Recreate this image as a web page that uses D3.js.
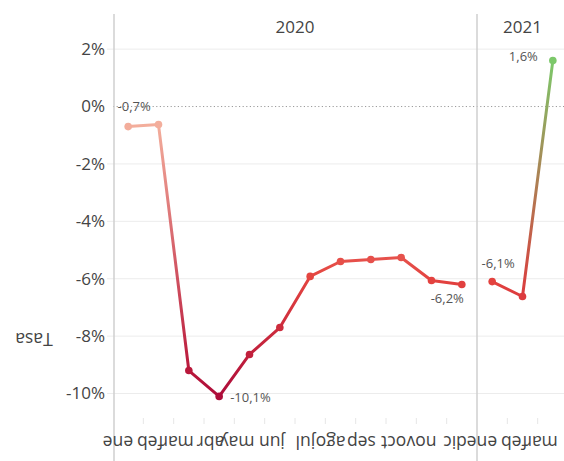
<!DOCTYPE html>
<html>
<head>
<meta charset="utf-8">
<script src="https://cdn.jsdelivr.net/npm/d3@7"></script>
<style>
  html, body { margin: 0; padding: 0; background: #fff; }
  svg { display: block; font-family: "Open Sans", "Noto Sans", sans-serif; }
</style>
</head>
<body>
<svg id="chart" width="564" height="461"></svg>
<script>
// Monthly rate (%) by year
const years = ["2020", "2021"];
const months2020 = ["ene", "feb", "mar", "abr", "may", "jun", "jul", "ago", "sep", "oct", "nov", "dic"];
const months2021 = ["ene", "feb", "mar"];
const tasa2020 = [-0.7, -0.63, -9.2, -10.1, -8.64, -7.7, -5.92, -5.4, -5.33, -5.26, -6.06, -6.2];
const tasa2021 = [-6.1, -6.62, 1.6];
const yTicks = [2, 0, -2, -4, -6, -8, -10];
const yTitle = "Tasa";

const es = d3.formatLocale({ decimal: ",", thousands: ".", grouping: [3], currency: ["", " €"], minus: "-" });
const fmtPct = v => es.format(".1f")(v) + "%";
const fmtTick = v => es.format("d")(v) + "%";

const svg = d3.select("#chart");
const plotTop = 14, plotBottom = 413.6, axisX = 113;

const y = d3.scaleLinear().domain([-10.7, 3.2]).range([plotBottom, plotTop + 0.7]);

// one band scale per year facet
const facets = [
  { year: years[0], months: months2020, values: tasa2020, x: d3.scaleBand().domain(months2020).range([axisX, 477]) },
  { year: years[1], months: months2021, values: tasa2021, x: d3.scaleBand().domain(months2021).range([477, 568]) }
];

// colour by value: dark crimson at the lowest, red, salmon near zero, green above
const color = d3.scaleLinear()
  .domain([-10.1, -6, 0, 1.6])
  .range(["#ad0c3a", "#e4433f", "#f5bba7", "#7cc86a"])
  .interpolate(d3.interpolateRgb);

const defs = svg.append("defs");

// horizontal grid
svg.append("g")
  .selectAll("line")
  .data(yTicks.filter(t => t !== 0))
  .join("line")
  .attr("x1", axisX - 6).attr("x2", 564)
  .attr("y1", d => y(d)).attr("y2", d => y(d))
  .attr("stroke", "#ececec").attr("stroke-width", 1);

// dotted zero line
svg.append("line")
  .attr("x1", axisX).attr("x2", 564)
  .attr("y1", y(0)).attr("y2", y(0))
  .attr("stroke", "#9a9a9a").attr("stroke-width", 1)
  .attr("stroke-dasharray", "1.2,2.4");

// y axis labels
svg.append("g")
  .selectAll("text")
  .data(yTicks)
  .join("text")
  .attr("x", 105)
  .attr("y", d => y(d))
  .attr("dy", "0.35em")
  .attr("text-anchor", "end")
  .attr("font-size", 17)
  .attr("fill", "#444")
  .text(fmtTick);

// y axis title, drawn upside down
svg.append("text")
  .attr("transform", "translate(34,333) rotate(180)")
  .attr("text-anchor", "middle")
  .attr("font-size", 17.5)
  .attr("fill", "#444")
  .text(yTitle);

facets.forEach((f, fi) => {
  const x = f.x;
  const cx = m => x(m) + x.bandwidth() / 2;
  const x0 = x.range()[0], x1 = x.range()[1];

  // facet border
  svg.append("line")
    .attr("x1", x0 + (fi === 0 ? 1 : 0)).attr("x2", x0 + (fi === 0 ? 1 : 0))
    .attr("y1", plotTop).attr("y2", 461)
    .attr("stroke", "#cfcfcf").attr("stroke-width", 1.5);

  // year header
  svg.append("text")
    .attr("x", (x0 + x1) / 2)
    .attr("y", 33)
    .attr("text-anchor", "middle")
    .attr("font-size", 17)
    .attr("fill", "#444")
    .text(f.year);

  // small ticks at band boundaries
  svg.append("g")
    .selectAll("line")
    .data(f.months.slice(1))
    .join("line")
    .attr("x1", m => x(m)).attr("x2", m => x(m))
    .attr("y1", 418).attr("y2", 424)
    .attr("stroke", "#e6e6e6").attr("stroke-width", 1);

  // month labels, drawn upside down and starting just right of the band centre
  svg.append("g")
    .selectAll("text")
    .data(f.months)
    .join("text")
    .attr("transform", m => `translate(${cx(m) + 5},436) rotate(180)`)
    .attr("text-anchor", "start")
    .attr("font-size", 17.5)
    .attr("fill", "#444")
    .text(m => m);

  const pts = f.months.map((m, i) => ({ m, v: f.values[i], x: cx(m), y: y(f.values[i]) }));

  // each segment gets its own gradient between the endpoint colours
  d3.pairs(pts).forEach(([a, b], i) => {
    const id = `seg-${fi}-${i}`;
    const g = defs.append("linearGradient")
      .attr("id", id)
      .attr("gradientUnits", "userSpaceOnUse")
      .attr("x1", a.x).attr("y1", a.y)
      .attr("x2", b.x).attr("y2", b.y);
    g.append("stop").attr("offset", 0).attr("stop-color", color(a.v));
    g.append("stop").attr("offset", 1).attr("stop-color", color(b.v));
    svg.append("line")
      .attr("x1", a.x).attr("y1", a.y)
      .attr("x2", b.x).attr("y2", b.y)
      .attr("stroke", `url(#${id})`)
      .attr("stroke-width", 3)
      .attr("stroke-linecap", "round");
  });

  svg.append("g")
    .selectAll("circle")
    .data(pts)
    .join("circle")
    .attr("cx", d => d.x).attr("cy", d => d.y)
    .attr("r", 3.8)
    .attr("fill", d => color(d.v));

  f.pts = pts;
});

// value labels at the first, lowest and last points
const p20 = facets[0].pts, p21 = facets[1].pts;
const labels = [
  { p: p20[0], dx: 6, dy: -16, anchor: "middle" },
  { p: p20[3], dx: 11, dy: 6, anchor: "start" },
  { p: p20[11], dx: 2, dy: 19, anchor: "end" },
  { p: p21[0], dx: 6, dy: -14, anchor: "middle" },
  { p: p21[2], dx: -15, dy: 0, anchor: "end" }
];
svg.append("g")
  .selectAll("text")
  .data(labels)
  .join("text")
  .attr("x", d => d.p.x + d.dx)
  .attr("y", d => d.p.y + d.dy)
  .attr("text-anchor", d => d.anchor)
  .attr("font-size", 13)
  .attr("fill", "#555")
  .text(d => fmtPct(d.p.v));
</script>
</body>
</html>
